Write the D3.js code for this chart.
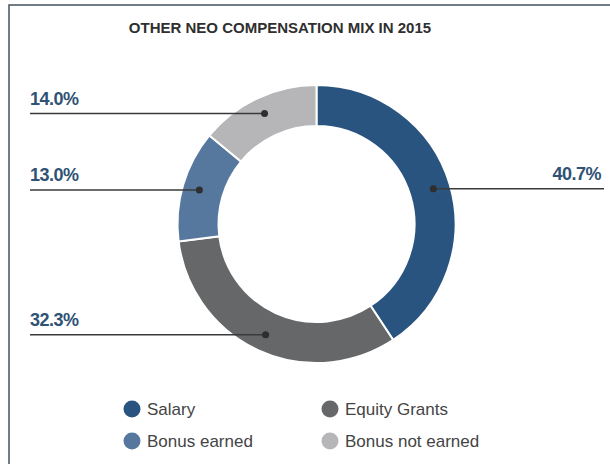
<!DOCTYPE html>
<html>
<head>
<meta charset="utf-8">
<script src="https://cdn.jsdelivr.net/npm/d3@7"></script>
<style>
  body { margin: 0; background: #fff; }
  svg { display: block; font-family: "Liberation Sans", Arial, sans-serif; }
</style>
</head>
<body>
<svg id="chart"></svg>
<script>
const categories = ["Salary", "Equity Grants", "Bonus earned", "Bonus not earned"];
const values = [40.7, 32.3, 13.0, 14.0];
const colors = ["#2a5480", "#666769", "#56789f", "#b6b6b8"];
const legendOrder = ["Salary", "Equity Grants", "Bonus earned", "Bonus not earned"];

const data = categories.map((c, i) => ({ cat: c, value: values[i], color: colors[i] }));

const width = 610, height = 464;
const cx = 316.5, cy = 224, outerR = 139, innerR = 98;

const svg = d3.select("#chart")
    .attr("width", width)
    .attr("height", height);

svg.append("rect")
    .attr("x", 9).attr("y", 5)
    .attr("width", width + 10).attr("height", height + 10)
    .attr("fill", "#fff")
    .attr("stroke", "#44525e")
    .attr("stroke-width", 1.5);

svg.append("text")
    .attr("x", 280)
    .attr("y", 33)
    .attr("text-anchor", "middle")
    .style("font-size", "15px")
    .style("font-weight", "bold")
    .style("fill", "#2f2f2f")
    .text("OTHER NEO COMPENSATION MIX IN 2015");

const pie = d3.pie().sort(null).value(d => d.value);
const arc = d3.arc().innerRadius(innerR).outerRadius(outerR);
const dotR = 122;
const mid = d3.arc().innerRadius(dotR).outerRadius(dotR);

const g = svg.append("g").attr("transform", `translate(${cx},${cy})`);
const arcs = pie(data);

g.selectAll(".slice")
    .data(arcs)
    .enter().append("path")
    .attr("class", "slice")
    .attr("d", arc)
    .attr("fill", d => d.data.color)
    .attr("stroke", "#fff")
    .attr("stroke-width", 2);

// leader lines + labels
arcs.forEach(d => {
    const [px, py] = mid.centroid(d);
    const dx = cx + px, dy = cy + py;
    const right = px > 0;
    const x2 = right ? 604 : 30;
    svg.append("line")
        .attr("x1", dx).attr("y1", dy)
        .attr("x2", x2).attr("y2", dy)
        .attr("stroke", "#3a3a3a")
        .attr("stroke-width", 1.5);
    svg.append("circle")
        .attr("cx", dx).attr("cy", dy).attr("r", 3.5)
        .attr("fill", "#2e2e2e");
    svg.append("text")
        .attr("x", right ? 601 : 30)
        .attr("y", dy - 9)
        .attr("text-anchor", right ? "end" : "start")
        .style("font-size", "18px")
        .style("font-weight", "bold")
        .style("letter-spacing", "-0.5px")
        .style("fill", "#2f5275")
        .text(d3.format(".1f")(d.data.value) + "%");
});

// legend
const legend = svg.append("g");
legendOrder.forEach((name, i) => {
    const item = data.find(d => d.cat === name);
    const col = i % 2, row = Math.floor(i / 2);
    const lx = 132 + col * 198, ly = 409 + row * 32;
    legend.append("circle")
        .attr("cx", lx).attr("cy", ly).attr("r", 8.5)
        .attr("fill", item.color);
    legend.append("text")
        .attr("x", lx + 15).attr("y", ly + 6)
        .style("font-size", "17px")
        .style("fill", "#444")
        .text(name);
});
</script>
</body>
</html>
